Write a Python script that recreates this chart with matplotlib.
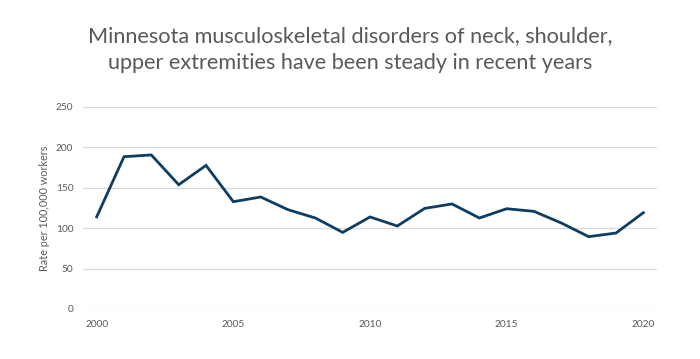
import matplotlib
matplotlib.use("Agg")
import matplotlib.pyplot as plt

# 数据：年份与每十万工人发生率
years = list(range(2000, 2021))
rates = [114, 188.5, 190.6, 153.8, 177.7, 132.8, 138.6, 122.9, 112.6, 94.8,
         113.9, 102.7, 124.5, 130, 112.6, 124.1, 120.8, 106.4, 89.5, 94, 119.2]
xticks = [2000, 2005, 2010, 2015, 2020]
yticks = [0, 50, 100, 150, 200, 250]

plt.rcParams['font.family'] = ['Lato', 'DejaVu Sans']

fig = plt.figure(figsize=(7, 3.59), dpi=100)
ax = fig.add_axes([0.1186, 0.1393, 0.82, 0.5627])

ax.plot(years, rates, color='#0e3d63', linewidth=2.0, solid_joinstyle='miter')

ax.set_xlim(1999.5, 2020.5)
ax.set_ylim(0, 250)
ax.set_xticks(xticks)
ax.set_yticks(yticks)
ax.tick_params(length=0, labelsize=7.3, labelcolor='#595959')
ax.tick_params(axis='x', pad=8)
ax.tick_params(axis='y', pad=7)
ax.grid(axis='y', color='#d9d9d9', linewidth=0.9)
ax.set_axisbelow(True)
for s in ax.spines.values():
    s.set_visible(False)

ax.set_ylabel('Rate per 100,000 workers', fontsize=7.8, color='#595959', labelpad=4)

fig.text(0.5, 0.862, 'Minnesota musculoskeletal disorders of neck, shoulder,\nupper extremities have been steady in recent years',
         ha='center', va='center', fontsize=15.6, color='#595959', linespacing=1.38)

fig.savefig('out.png', dpi=100)
plt.close(fig)
